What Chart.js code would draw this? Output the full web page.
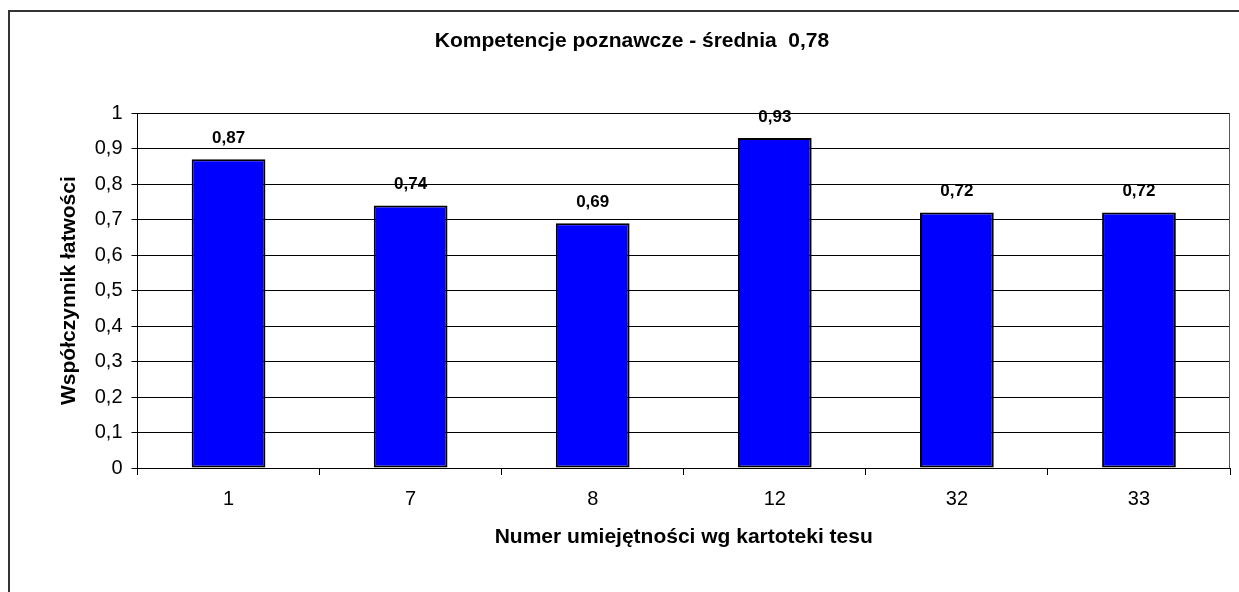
<!DOCTYPE html>
<html>
<head>
<meta charset="utf-8">
<script src="https://cdn.jsdelivr.net/npm/chart.js@4.4.0/dist/chart.umd.min.js"></script>
<style>
    html, body { margin: 0; padding: 0; background: #fff; }
    #wrap { width: 1239px; height: 592px; }
</style>
</head>
<body>
<div id="wrap"><canvas id="chart" width="1239" height="592"></canvas></div>
<script>
// dane wykresu
const categories = ['1', '7', '8', '12', '32', '33'];
const values = [0.87, 0.74, 0.69, 0.93, 0.72, 0.72];
const yMin = 0;
const yMax = 1;
const yStep = 0.1;
const chartTitle = 'Kompetencje poznawcze - średnia  0,78';
const xTitle = 'Numer umiejętności wg kartoteki tesu';
const yTitle = 'Współczynnik łatwości';

const FONT = "'Liberation Sans', Arial, sans-serif";

// liczby z przecinkiem
function fmt(v) {
    return (Math.round(v * 100) / 100).toString().replace('.', ',');
}

// ramka wykresu i ramka obszaru kreślenia
const framePlugin = {
    id: 'frame',
    beforeDraw(chart) {
        const ctx = chart.ctx;
        ctx.save();
        ctx.fillStyle = '#fff';
        ctx.fillRect(0, 0, chart.width, chart.height);
        ctx.strokeStyle = '#333';
        ctx.lineWidth = 2;
        ctx.beginPath();
        ctx.moveTo(9, chart.height);
        ctx.lineTo(9, 11);
        ctx.lineTo(chart.width, 11);
        ctx.stroke();
        ctx.restore();
    },
    afterDraw(chart) {
        const a = chart.chartArea;
        const ctx = chart.ctx;
        ctx.save();
        ctx.strokeStyle = '#555';
        ctx.lineWidth = 1;
        ctx.beginPath();
        ctx.moveTo(Math.round(a.right) - 0.5, a.top);
        ctx.lineTo(Math.round(a.right) - 0.5, a.bottom);
        ctx.stroke();
        ctx.restore();
    }
};

// etykiety wartości nad słupkami
const valueLabels = {
    id: 'valueLabels',
    afterDatasetsDraw(chart) {
        const ctx = chart.ctx;
        const meta = chart.getDatasetMeta(0);
        ctx.save();
        ctx.font = 'bold 17px ' + FONT;
        ctx.fillStyle = '#000';
        ctx.textAlign = 'center';
        ctx.textBaseline = 'middle';
        meta.data.forEach((bar, i) => {
            ctx.fillText(fmt(values[i]), bar.x, bar.y - 21);
        });
        ctx.restore();
    }
};

const ctx = document.getElementById('chart').getContext('2d');

new Chart(ctx, {
    type: 'bar',
    data: {
        labels: categories,
        datasets: [{
            data: values,
            backgroundColor: '#0000FF',
            borderColor: '#000',
            borderWidth: 2,
            borderSkipped: false,
            categoryPercentage: 1,
            barPercentage: 0.405
        }]
    },
    options: {
        responsive: false,
        animation: false,
        events: [],
        layout: {
            padding: { left: 34, right: 9, top: 0, bottom: 0 }
        },
        plugins: {
            legend: { display: false },
            tooltip: { enabled: false },
            title: {
                display: true,
                text: chartTitle,
                color: '#000',
                font: { family: FONT, size: 21, weight: 'bold' },
                padding: { top: 29, bottom: 59 }
            }
        },
        scales: {
            x: {
                grid: {
                    display: true,
                    drawOnChartArea: false,
                    drawTicks: true,
                    tickLength: 7,
                    color: '#000'
                },
                border: { display: true, color: '#000', width: 1 },
                ticks: {
                    color: '#000',
                    font: { family: FONT, size: 20 },
                    maxRotation: 0,
                    autoSkip: false,
                    padding: 12
                },
                title: {
                    display: true,
                    text: xTitle,
                    color: '#000',
                    font: { family: FONT, size: 21, weight: 'bold' },
                    padding: { top: 0, bottom: 42 }
                },
                afterFit(scale) {
                    scale.height = 124;
                }
            },
            y: {
                min: yMin,
                max: yMax,
                grid: {
                    color: '#000',
                    drawTicks: true,
                    tickLength: 6
                },
                border: { display: true, color: '#000', width: 1 },
                ticks: {
                    stepSize: yStep,
                    color: '#000',
                    font: { family: FONT, size: 20 },
                    padding: 9,
                    callback: v => fmt(v)
                },
                title: {
                    display: true,
                    text: yTitle,
                    color: '#000',
                    font: { family: FONT, size: 21, weight: 'bold' },
                    padding: { top: 23, bottom: 0 }
                },
                afterFit(scale) {
                    scale.width = 103.5;
                }
            }
        }
    },
    plugins: [framePlugin, valueLabels]
});
</script>
</body>
</html>
